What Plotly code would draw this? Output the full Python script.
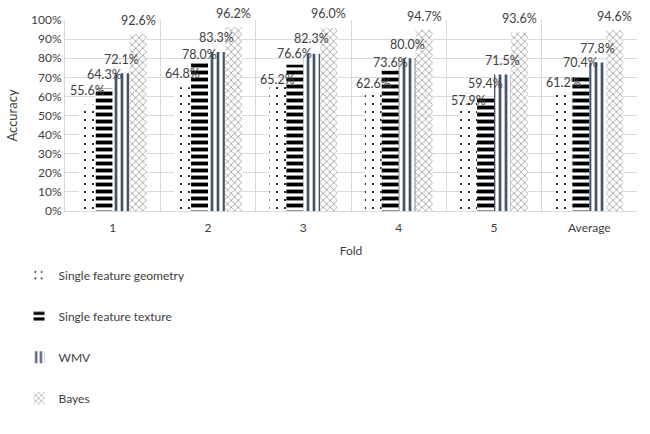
import plotly.graph_objects as go

folds = ["1", "2", "3", "4", "5", "Average"]
geometry = [55.6, 64.8, 65.2, 62.6, 57.9, 61.2]
texture = [64.3, 78.0, 76.6, 73.6, 59.4, 70.4]
wmv = [72.1, 83.3, 82.3, 80.0, 71.5, 77.8]
bayes = [92.6, 96.2, 96.0, 94.7, 93.6, 94.6]
yticks = [0, 10, 20, 30, 40, 50, 60, 70, 80, 90, 100]

# styling: (name, values, pattern shape, colour, pattern size, solidity)
series = [
    ("Single feature geometry", geometry, ".", "#000000", 8, 0.06),
    ("Single feature texture", texture, "-", "#000000", 7, 0.55),
    ("WMV", wmv, "|", "#44546A", 6, 0.45),
    ("Bayes", bayes, "x", "#595959", 5, 0.18),
]
# label lift above bar top in px (as placed in the original chart)
label_lift = [
    [14, 14, 7, 8, 0, 12],
    [14, 8, 11, 8, 14, 14],
    [14, 14, 15, 14, 14, 14],
    [14, 14, 14, 14, 14, 14],
]
BARGAP = 0.29

fig = go.Figure()
for i, (name, vals, shape, col, size, sol) in enumerate(series):
    fig.add_trace(go.Bar(
        x=folds, y=[v / 100 for v in vals], name=name,
        legendgroup=f"g{i}",
        marker=dict(color="white", line=dict(width=0),
                    pattern=dict(shape=shape, fgcolor=col, bgcolor="white",
                                 size=size, solidity=sol, fillmode="replace",
                                 fgopacity=1)),
        hovertemplate="%{x}: %{y:.1%}<extra>" + name + "</extra>",
    ))

# data labels (drawn above all bars, like the original)
n = len(series)
w = (1 - BARGAP) / n
annotations = []
for i, (name, vals, *_rest) in enumerate(series):
    for j, v in enumerate(vals):
        annotations.append(dict(
            x=j + (i - (n - 1) / 2) * w, y=v / 100, xref="x", yref="y",
            text=f"{v:.1f}%", showarrow=False, yanchor="middle",
            yshift=label_lift[i][j], font=dict(size=12.5, color="#404040"),
        ))

fig.update_layout(
    width=650, height=434,
    margin=dict(l=55, r=13, t=19, b=223),
    paper_bgcolor="white", plot_bgcolor="white",
    font=dict(family="Lato, Carlito, sans-serif", size=12, color="#404040"),
    barmode="group", bargap=BARGAP, bargroupgap=0,
    annotations=annotations,
    xaxis=dict(title=dict(text="Fold", standoff=12, font=dict(size=12)),
               type="category", tickson="boundaries", showgrid=True,
               gridcolor="#d9d9d9", ticks="", showline=True, linecolor="#d9d9d9",
               ticklabelstandoff=6),
    yaxis=dict(title=dict(text="Accuracy", standoff=10, font=dict(size=13)),
               range=[0, 1], tickvals=[t / 100 for t in yticks],
               ticktext=[f"{t}%" for t in yticks],
               showgrid=True, gridcolor="#d9d9d9", zeroline=False,
               showline=True, linecolor="#d9d9d9", ticks=""),
    legend=dict(orientation="v", x=-0.055, xanchor="left", y=-0.26, yanchor="top",
                indentation=-15,
                itemwidth=30, tracegroupgap=22, font=dict(size=12, color="#404040")),
    showlegend=True,
)

fig.write_html("out.html")
